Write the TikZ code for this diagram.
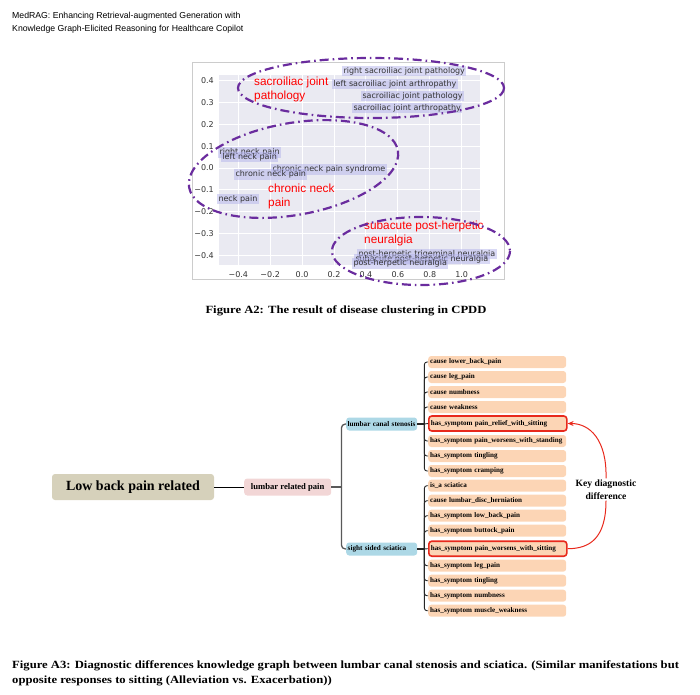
\documentclass[tikz,border=0pt]{standalone}
\usepackage{fontspec}
\setmainfont{Liberation Serif}
\newfontfamily\plotfont{DejaVu Sans}
\newfontfamily\grpfont{Liberation Sans}
\newfontfamily\headfont{Liberation Sans}
\newfontfamily\capfont[FakeStretch=1.15]{Liberation Serif}
\usetikzlibrary{positioning,arrows.meta,calc}
\definecolor{axbg}{HTML}{EAEAF2}
\definecolor{lav}{HTML}{B4B4EC}
\definecolor{clus}{HTML}{6A2C9E}
\definecolor{peach}{HTML}{FCD5B5}
\definecolor{skyb}{HTML}{ADD8E6}
\definecolor{rosy}{HTML}{F2D6D6}
\definecolor{khaki}{HTML}{D6D1BB}
\definecolor{keyred}{HTML}{E8291C}

\begin{document}
\begin{tikzpicture}[x=1pt, y=-1pt,
  pt/.style={font=\plotfont\fontsize{8}{9}\selectfont, fill=lav, fill opacity=0.5, text opacity=1, text=black!80, inner sep=1.3pt, anchor=west},
  grp/.style={font=\grpfont\fontsize{11.8}{14}\selectfont, text=red, align=left, anchor=north west, inner sep=0pt},
  tick/.style={font=\plotfont\fontsize{8}{9}\selectfont, text=black!80, inner sep=0pt},
  clus/.style={draw=clus, line width=2.2pt, dash pattern=on 9pt off 4pt on 1.6pt off 4pt},
  root/.style={fill=khaki, rounded corners=3pt, minimum width=162pt, minimum height=26pt, font=\bfseries\fontsize{14}{16}\selectfont},
  mid/.style={fill=rosy, rounded corners=3pt, minimum width=87pt, minimum height=17pt, inner sep=1pt, font=\bfseries\fontsize{8.6}{10}\selectfont},
  branch/.style={fill=skyb, rounded corners=3pt, text width=68pt, align=left, minimum height=13pt, inner sep=1.5pt, anchor=west, font=\bfseries\fontsize{7.2}{8}\selectfont},
  leaf/.style={fill=peach, rounded corners=3pt, text width=134pt, minimum height=12pt, inner sep=2pt, anchor=west, align=left, font=\bfseries\fontsize{7.1}{8}\selectfont},
  hl/.style={leaf, draw=keyred, line width=1.6pt, minimum height=15pt},
  link/.style={draw=black!85, line width=0.9pt, rounded corners=2.5pt},
  trunk/.style={draw=black!65, line width=1.3pt, rounded corners=4pt},
  keyarr/.style={draw=keyred, line width=1pt}]
\useasboundingbox (0,0) rectangle (700,694);

% header
\node[font=\headfont\fontsize{8.7}{13}\selectfont, align=left, anchor=west, inner sep=0pt] (head) at (12,22.5)
  {MedRAG: Enhancing Retrieval-augmented Generation with\\Knowledge Graph-Elicited Reasoning for Healthcare Copilot};

% scatter plot
\draw[black!20, line width=0.6pt] (192,62) rectangle (504,279);
\fill[axbg] (219,75) rectangle (480,265);
\foreach \xx/\lab in {238.3/−0.4, 270.2/−0.2, 302.1/0.0, 334/0.2, 365.9/0.4, 397.9/0.6, 429.8/0.8, 461.7/1.0} {
  \draw[white, line width=0.9pt] (\xx,75) -- (\xx,265);
  \node[tick, anchor=north] at (\xx,271) {\lab};
}
\foreach \yy/\lab in {80.4/0.4, 102.3/0.3, 124.2/0.2, 146.1/0.1, 168/0.0, 189.9/−0.1, 211.8/−0.2, 233.7/−0.3, 255.6/−0.4} {
  \draw[white, line width=0.9pt] (219,\yy) -- (480,\yy);
  \node[tick, anchor=east] at (214,\yy) {\lab};
}

\node[pt] (rsjp) at (342,71) {right sacroiliac joint pathology};
\node[pt] (lsja) at (332,84) {left sacroiliac joint arthropathy};
\node[pt] (sjp) at (361,96) {sacroiliac joint pathology};
\node[pt] (sja) at (352,108) {sacroiliac joint arthropathy};
\node[pt] (rnp) at (218,152.5) {right neck pain};
\node[pt] (lnp) at (221,157) {left neck pain};
\node[pt] (cnps) at (271,169.5) {chronic neck pain syndrome};
\node[pt] (cnp) at (234,174.5) {chronic neck pain};
\node[pt] (np) at (217,199) {neck pain};
\node[pt] (phtn) at (357,254) {post-herpetic trigeminal neuralgia};
\node[pt] (sphn) at (354,259.3) {subacute post-herpetic neuralgia};
\node[pt] (phn) at (352,263.5) {post-herpetic neuralgia};

\node[grp] (gsj) at (254,77) {sacroiliac joint\\pathology};
\node[grp] (gcn) at (268,184) {chronic neck\\pain};
\node[grp] (gph) at (364,221) {subacute post-herpetic\\neuralgia};

\draw[clus] (371,88) ellipse [x radius=133, y radius=30];
\draw[clus, rotate around={10:(293.5,169)}] (293.5,169) ellipse [x radius=106, y radius=46];
\draw[clus] (421,251) ellipse [x radius=89, y radius=34];

\node[font=\capfont\bfseries\fontsize{11}{12}\selectfont, inner sep=0pt] (capA) at (346,311)
  {Figure A2: The result of disease clustering in CPDD};

% knowledge graph
\node[root] (root) at (133,487) {Low back pain related};
\node[mid, anchor=west] (lrp) at (244,487) {lumbar related pain};
\draw[black, line width=0.9pt] (root) -- (lrp);
\node[branch] (lcs) at (346,424) {lumbar canal stenosis};
\node[branch] (sss) at (346,549) {sight sided sciatica};
\coordinate (tr) at ($(lrp.east)+(10,0)$);
\draw[trunk] (lrp.east) -- (tr);
\draw[trunk] (tr) |- (lcs.west);
\draw[trunk] (tr) |- (sss.west);

\coordinate (jl) at ($(lcs.east)+(7,0)$);
\coordinate (js) at ($(sss.east)+(7,0)$);
\draw[black!85, line width=2.2pt] (lcs.east) -- (jl);
\draw[black!85, line width=2.2pt] (sss.east) -- (js);

\foreach \yy/\txt [count=\i] in {362/cause lower\_back\_pain, 377/cause leg\_pain, 392/cause numbness, 407/cause weakness,
  441/has\_symptom pain\_worsens\_with\_standing, 456/has\_symptom tingling, 471/has\_symptom cramping} {
  \node[leaf] (l\i) at (428,\yy) {\txt};
  \draw[link] (jl) |- (l\i.west);
}
\node[hl] (relief) at (428,423.5) {has\_symptom pain\_relief\_with\_sitting};
\draw[link] (jl) -- (relief.west);

\foreach \yy/\txt [count=\i] in {485.7/is\_a sciatica, 500.7/cause lumbar\_disc\_herniation, 515.7/has\_symptom low\_back\_pain,
  530.7/has\_symptom buttock\_pain, 565.7/has\_symptom leg\_pain, 580.7/has\_symptom tingling,
  595.7/has\_symptom numbness, 610.7/has\_symptom muscle\_weakness} {
  \node[leaf] (s\i) at (428,\yy) {\txt};
  \draw[link] (js) |- (s\i.west);
}
\node[hl] (worse) at (428,548.7) {has\_symptom pain\_worsens\_with\_sitting};
\draw[link] (js) -- (worse.west);

\node[font=\bfseries\fontsize{9.6}{13}\selectfont, align=center, inner sep=1pt] (key) at (606,489.5) {Key diagnostic\\difference};
\draw[keyarr, -{Stealth[length=6pt, width=5pt]}] (key.north) .. controls (607,440) and (590,423.5) .. (relief.east);
\draw[keyarr] (key.south) .. controls (606,538) and (590,548.7) .. (worse.east);

\node[font=\capfont\bfseries\fontsize{11}{15}\selectfont, align=left, anchor=west, inner sep=0pt] (capB) at (12,673.5)
  {Figure A3: Diagnostic differences knowledge graph between lumbar canal stenosis and sciatica. (Similar manifestations but\\opposite responses to sitting (Alleviation vs. Exacerbation))};
\end{tikzpicture}
\end{document}
